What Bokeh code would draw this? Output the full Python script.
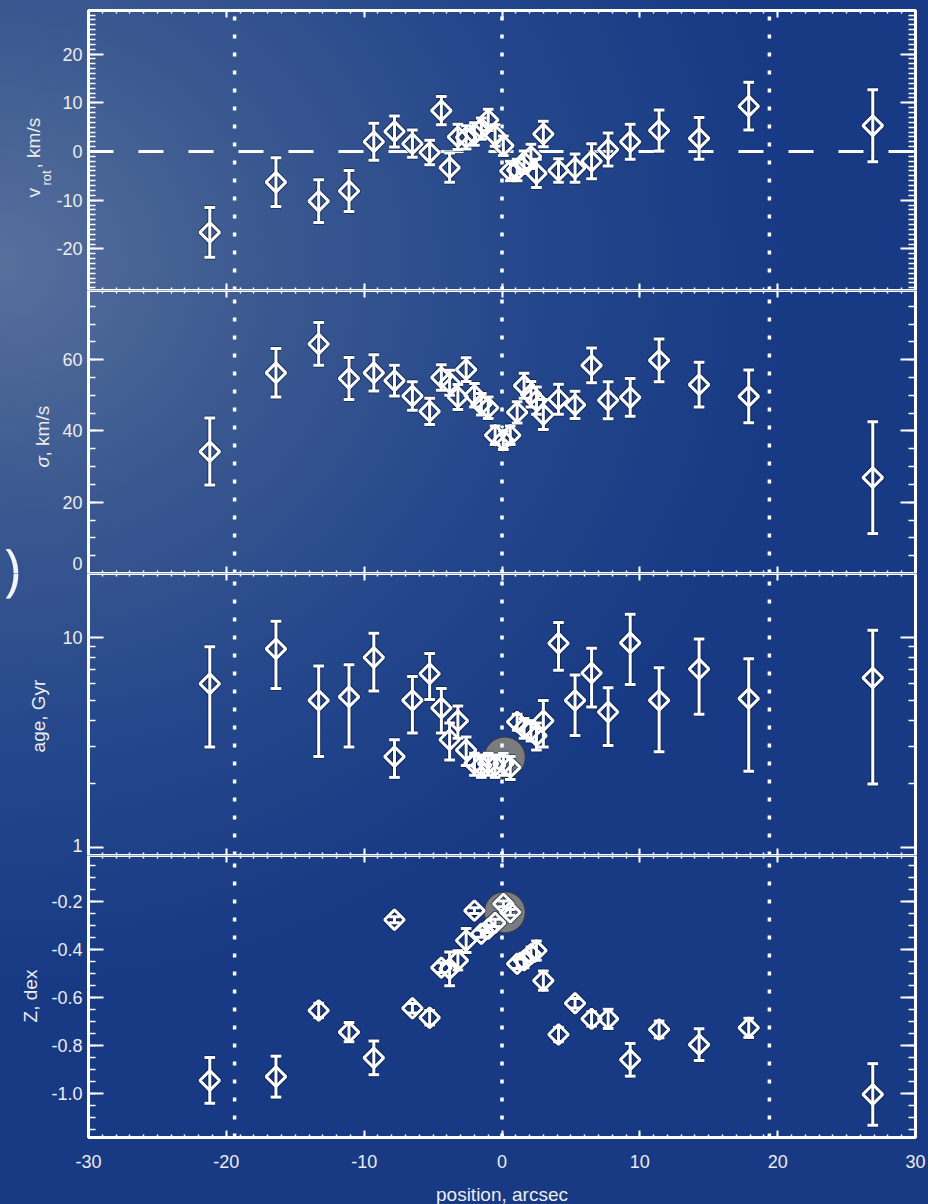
import numpy as np
from bokeh.embed import file_html
from bokeh.layouts import column
from bokeh.models import (ColumnDataSource, FixedTicker, Label, LinearAxis, LogAxis,
                          PrintfTickFormatter, Range1d)
from bokeh.plotting import figure
from bokeh.resources import INLINE

# ---------------------------------------------------------------- data
# slit positions along the major axis, arcsec
position = [-21.2, -16.4, -13.3, -11.1, -9.3, -7.8, -6.5, -5.25, -4.4, -3.8,
            -3.2, -2.6, -2.0, -1.5, -1.0, -0.5, 0.1, 0.6, 1.1, 1.6,
            2.1, 2.5, 3.0, 4.1, 5.3, 6.5, 7.7, 9.3, 11.4, 14.3,
            17.9, 26.9]

# rotation velocity, km/s
vrot = [-16.6, -6.3, -10.2, -8.1, 2.0, 4.1, 1.6, -0.2, 8.4, -3.3,
        3.0, 2.9, 3.6, 4.7, 6.5, 3.3, 1.2, -4.0, -3.8, -2.2,
        -1.0, -4.5, 3.6, -3.9, -3.4, -2.0, 0.4, 2.0, 4.3, 2.7,
        9.3, 5.3]
vrot_err = [5.1, 5.0, 4.4, 4.2, 3.8, 3.2, 2.8, 2.5, 2.9, 3.0,
            2.6, 2.4, 2.3, 2.2, 2.2, 2.2, 2.0, 2.0, 2.2, 2.3,
            2.5, 2.9, 2.6, 2.4, 2.9, 3.6, 3.4, 3.6, 4.2, 4.3,
            4.9, 7.4]

# velocity dispersion, km/s
sigma = [34.2, 56.3, 64.4, 54.7, 56.3, 54.1, 49.8, 45.5, 55.0, 53.5,
         49.5, 57.2, 50.0, 47.5, 46.5, 38.8, 37.4, 38.8, 45.2, 52.7,
         50.3, 48.5, 44.6, 48.9, 47.3, 58.4, 48.6, 49.4, 59.8, 53.0,
         49.7, 26.9]
sigma_err = [9.4, 6.8, 6.0, 5.9, 5.1, 4.3, 4.0, 3.7, 3.6, 3.5,
             3.5, 3.3, 3.3, 3.0, 3.0, 2.6, 2.6, 2.6, 3.0, 3.5,
             3.6, 3.8, 4.2, 4.2, 3.8, 4.9, 5.2, 5.3, 6.0, 6.3,
             7.4, 15.7]

# SSP-equivalent age, Gyr
age = [6.0, 8.8, 5.0, 5.2, 8.0, 2.7, 5.0, 6.7, 4.6, 3.25,
       4.0, 2.9, 2.5, 2.45, 2.5, 2.45, 2.5, 2.4, 3.95, 3.7,
       3.6, 3.4, 4.0, 9.35, 5.0, 6.75, 4.4, 9.4, 5.0, 7.05,
       5.1, 6.4]
age_err = [3.0, 3.1, 2.3, 2.2, 2.45, 0.55, 1.5, 1.65, 1.1, 0.65,
           0.7, 0.45, 0.3, 0.3, 0.3, 0.3, 0.3, 0.3, 0.35, 0.4,
           0.4, 0.5, 1.0, 2.4, 1.6, 2.1, 1.35, 3.45, 2.15, 2.75,
           2.8, 4.4]

# SSP-equivalent metallicity, dex
metallicity = [-0.945, -0.929, -0.654, -0.744, -0.851, -0.277, -0.645, -0.684, -0.476, -0.481,
               -0.446, -0.363, -0.239, -0.335, -0.315, -0.29, -0.211, -0.246, -0.46, -0.446,
               -0.42, -0.405, -0.53, -0.754, -0.624, -0.689, -0.689, -0.859, -0.733, -0.796,
               -0.726, -1.003]
metallicity_err = [0.095, 0.085, 0.03, 0.04, 0.07, 0.012, 0.02, 0.03, 0.02, 0.07,
                   0.04, 0.05, 0.012, 0.015, 0.015, 0.015, 0.012, 0.012, 0.02, 0.03,
                   0.03, 0.04, 0.04, 0.03, 0.02, 0.03, 0.04, 0.068, 0.035, 0.066,
                   0.04, 0.128]

# region boundaries and the nuclear aperture
boundary_x = [-19.4, 0.0, 19.4]
zero_velocity = 0.0
nucleus_x = [0.2]
nucleus_age = [2.67]
nucleus_z = [-0.246]

# ---------------------------------------------------------------- layout
PAGE_W = 928
X_LO, X_HI = -30, 30
BOX_LEFT, BOX_RIGHT = 88, 915          # page pixels of the panel boxes
INK = "#ffffff"
SHADOW = "#0a1533"
LABEL_INK = "#ededed"
FONT = "Liberation Sans"
CAP_HALF = 5.3 * (X_HI - X_LO) / (BOX_RIGHT - BOX_LEFT)

# page geometry of each panel box: (top px, bottom px, y_lo, y_hi, log)
G_VROT = (10, 290, -28.54, 28.95, False)
G_SIG = (290, 573, 0.0, 79.4, False)
G_AGE = (573, 855, 0.913, 20.1, True)
G_Z = (855, 1137, -1.182, -0.01, False)


def x_at(px):
    return X_LO + (px - BOX_LEFT) * (X_HI - X_LO) / (BOX_RIGHT - BOX_LEFT)


def y_at(geom, py):
    top, bottom, lo, hi, log = geom
    frac = (bottom - py) / (bottom - top)
    if log:
        return 10 ** (np.log10(lo) + frac * (np.log10(hi) - np.log10(lo)))
    return lo + frac * (hi - lo)


def make_panel(geom, canvas_top, canvas_bottom):
    top, bottom, lo, hi, log = geom
    p = figure(width=PAGE_W, height=canvas_bottom - canvas_top,
               output_backend="svg", toolbar_location=None,
               x_range=Range1d(x_at(0), x_at(PAGE_W)),
               y_range=Range1d(y_at(geom, canvas_bottom), y_at(geom, canvas_top)),
               y_axis_type="log" if log else "linear",
               x_axis_location=None, y_axis_location=None,
               min_border=0, min_border_left=0, min_border_right=0,
               min_border_top=0, min_border_bottom=0,
               background_fill_alpha=0, border_fill_alpha=0)
    p.grid.visible = False
    p.outline_line_color = None
    p.quad(left=[X_LO], right=[X_HI], bottom=[lo], top=[hi],
           fill_color=None, line_color=INK, line_width=3)
    return p


def tick_style(ax, major_in, minor_in):
    ax.axis_line_color = None
    ax.major_tick_in = major_in
    ax.major_tick_out = 0
    ax.minor_tick_in = minor_in
    ax.minor_tick_out = 0
    ax.major_tick_line_color = INK
    ax.major_tick_line_width = 2
    ax.minor_tick_line_color = INK
    ax.minor_tick_line_width = 1.5


def hide_labels(ax):
    ax.major_label_text_color = None
    ax.major_label_standoff = 0


def show_labels(ax, standoff):
    ax.major_label_text_font = FONT
    ax.major_label_text_font_size = "18px"
    ax.major_label_text_color = LABEL_INK
    ax.major_label_standoff = standoff


X_TICKER = FixedTicker(ticks=list(range(-30, 31, 10)), minor_ticks=list(range(-30, 31)))


def add_axes(p, geom, y_ticker, y_format, x_labels=False):
    lo, hi, log = geom[2], geom[3], geom[4]
    axis_cls = LogAxis if log else LinearAxis
    for side, loc in (("left", X_LO), ("right", X_HI)):
        ax = axis_cls(ticker=y_ticker, formatter=PrintfTickFormatter(format=y_format),
                      fixed_location=loc)
        tick_style(ax, 15, 7)
        if side == "left":
            show_labels(ax, 6)
        else:
            hide_labels(ax)
        p.add_layout(ax, side)
    for side, loc in (("above", hi), ("below", lo)):
        ax = LinearAxis(ticker=X_TICKER, formatter=PrintfTickFormatter(format="%d"),
                        fixed_location=loc)
        tick_style(ax, 7, 3)
        if side == "below" and x_labels:
            show_labels(ax, 17)
        else:
            hide_labels(ax)
        p.add_layout(ax, side)


def draw_boundaries(p, geom):
    lo, hi = geom[2], geom[3]
    n = len(boundary_x)
    p.segment(x0=boundary_x, y0=[lo] * n, x1=boundary_x, y1=[hi] * n,
              line_color=INK, line_width=3.5, line_dash="4 14")


def draw_profile(p, values, errors):
    x = np.asarray(position, dtype=float)
    y = np.asarray(values, dtype=float)
    e = np.asarray(errors, dtype=float)
    src = ColumnDataSource(dict(x=x, y=y, lo=y - e, hi=y + e,
                                cl=x - CAP_HALF, cr=x + CAP_HALF))
    for color, width, alpha in ((SHADOW, 5, 0.55), (INK, 3, 1.0)):
        p.segment("x", "lo", "x", "hi", source=src, line_color=color,
                  line_width=width, line_alpha=alpha)
        p.segment("cl", "lo", "cr", "lo", source=src, line_color=color,
                  line_width=width, line_alpha=alpha)
        p.segment("cl", "hi", "cr", "hi", source=src, line_color=color,
                  line_width=width, line_alpha=alpha)
        p.scatter("x", "y", source=src, marker="square", angle=np.pi / 4, size=14,
                  fill_color=None, line_color=color, line_width=width, line_alpha=alpha)


def draw_nucleus(p, ys):
    p.scatter(x=nucleus_x, y=ys, marker="circle", size=41, fill_color="#808080",
              fill_alpha=0.95, line_color="#3c3c3c", line_width=1)


def title(p, geom, text, px, py, size="19px", align="left", style="normal", angle=np.pi / 2,
          baseline="alphabetic"):
    p.add_layout(Label(x=x_at(px), y=y_at(geom, py), text=text, angle=angle,
                       text_align=align, text_baseline=baseline,
                       text_font=FONT, text_font_size=size, text_font_style=style,
                       text_color=LABEL_INK))


# ---------------------------------------------------------------- rotation velocity
p1 = make_panel(G_VROT, 0, 290)
add_axes(p1, G_VROT, FixedTicker(ticks=[-20, -10, 0, 10, 20], minor_ticks=list(range(-28, 29))), "%d")
draw_boundaries(p1, G_VROT)
p1.segment(x0=[X_LO], y0=[zero_velocity], x1=[X_HI], y1=[zero_velocity],
           line_color=INK, line_width=3, line_dash="25 25")
draw_profile(p1, vrot, vrot_err)
title(p1, G_VROT, "v", 33, 197)
title(p1, G_VROT, "rot", 46, 185, size="13px")
title(p1, G_VROT, ", km/s", 33, 168)

# ---------------------------------------------------------------- velocity dispersion
p2 = make_panel(G_SIG, 290, 573)
add_axes(p2, G_SIG, FixedTicker(ticks=[20, 40, 60], minor_ticks=list(range(5, 80, 5))), "%d")
draw_boundaries(p2, G_SIG)
draw_profile(p2, sigma, sigma_err)
# the zero label sits just above the panel's lower edge
title(p2, G_SIG, "0", 82, 563, size="18px", align="right", angle=0, baseline="middle")
title(p2, G_SIG, "σ", 42, 467, style="italic")
title(p2, G_SIG, ", km/s", 42, 456)

# ---------------------------------------------------------------- age
p3 = make_panel(G_AGE, 573, 855)
add_axes(p3, G_AGE, FixedTicker(ticks=[10], minor_ticks=[2, 3, 4, 5, 6, 7, 8, 9]), "%d")
# major tick at 1 Gyr: its label is lifted clear of the panel's lower edge
unit_axis = LogAxis(ticker=FixedTicker(ticks=[1]), fixed_location=X_LO)
tick_style(unit_axis, 15, 7)
hide_labels(unit_axis)
p3.add_layout(unit_axis, "left")
unit_axis_r = LogAxis(ticker=FixedTicker(ticks=[1]), fixed_location=X_HI)
tick_style(unit_axis_r, 15, 7)
hide_labels(unit_axis_r)
p3.add_layout(unit_axis_r, "right")
title(p3, G_AGE, "1", 82, 845, size="18px", align="right", angle=0, baseline="middle")
draw_nucleus(p3, nucleus_age)
draw_boundaries(p3, G_AGE)
draw_profile(p3, age, age_err)
title(p3, G_AGE, "age, Gyr", 38, 715.5, align="center")

# ---------------------------------------------------------------- metallicity
p4 = make_panel(G_Z, 855, 1204)
z_minor = [round(v, 2) for v in np.arange(-1.15, -0.0, 0.05)]
add_axes(p4, G_Z, FixedTicker(ticks=[-1.0, -0.8, -0.6, -0.4, -0.2], minor_ticks=z_minor),
         "%.1f", x_labels=True)
draw_nucleus(p4, nucleus_z)
draw_boundaries(p4, G_Z)
draw_profile(p4, metallicity, metallicity_err)
title(p4, G_Z, "Z, dex", 29.5, 995.5, align="center")
title(p4, G_Z, "position, arcsec", (BOX_LEFT + BOX_RIGHT) / 2, 1194, align="center",
      angle=0, baseline="middle")

# closing bracket of the slide text at the left edge, shared by two panels
for fig, geom in ((p2, G_SIG), (p3, G_AGE)):
    fig.add_layout(Label(x=x_at(20), y=y_at(geom, 567), text=")", text_align="right",
                         text_baseline="middle", text_font="Open Sans",
                         text_font_size="56px", text_color="#f4f4f4"))

layout = column(p1, p2, p3, p4, spacing=0, styles={
    "background": "radial-gradient(ellipse 85% 60% at 0% 22%, #56709c 0%, "
                  "#3a5890 35%, #24468b 68%, #183a84 100%)",
    "background-color": "#163782",
})

with open("out.html", "w") as f:
    f.write(file_html(layout, INLINE))
